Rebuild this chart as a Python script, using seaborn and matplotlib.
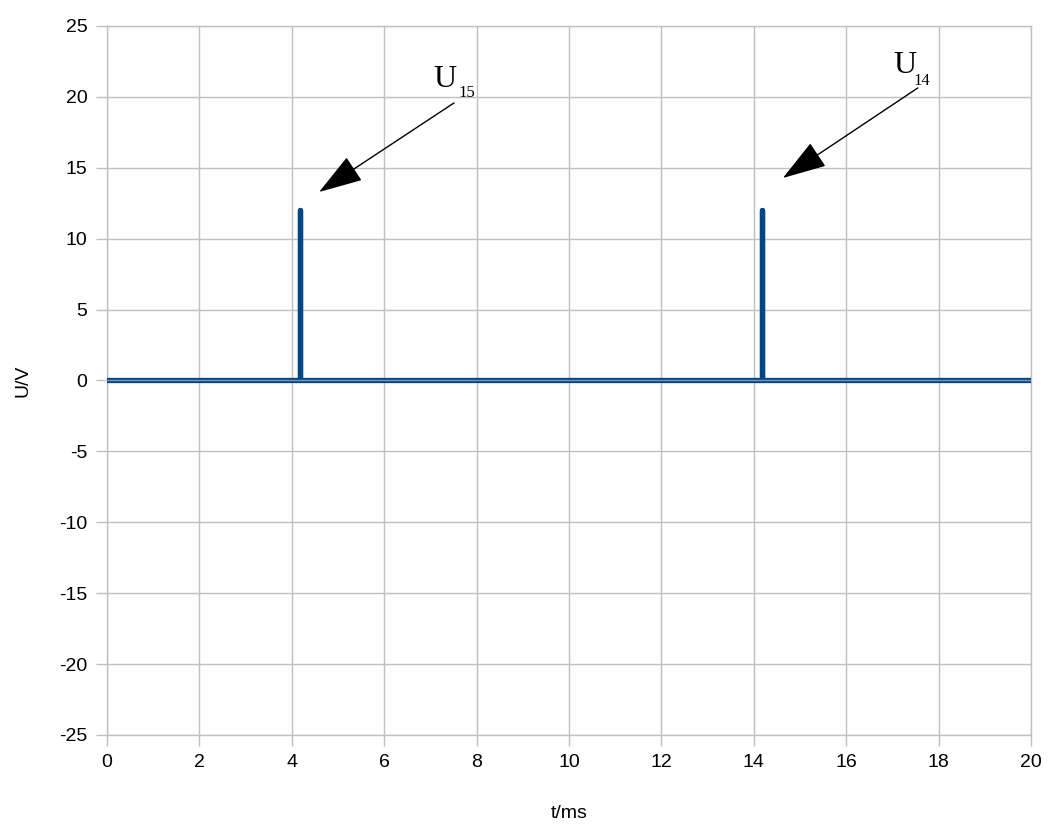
import matplotlib
matplotlib.use("Agg")
import matplotlib.pyplot as plt
import seaborn as sns
import pandas as pd

# Signal trace: two short 12 V pulses on a 0 V baseline
t_ms = [0.0, 4.18, 4.18, 4.18, 14.18, 14.18, 14.18, 20.0]
u_v = [0.0, 0.0, 12.0, 0.0, 0.0, 12.0, 0.0, 0.0]

x_ticks = [0, 2, 4, 6, 8, 10, 12, 14, 16, 18, 20]
y_ticks = [-25, -20, -15, -10, -5, 0, 5, 10, 15, 20, 25]

sns.set_theme(style="white")
plt.rcParams["font.family"] = ["Liberation Sans", "DejaVu Sans"]
plt.rcParams["axes.unicode_minus"] = False
plt.rcParams["text.color"] = "black"
plt.rcParams["axes.labelcolor"] = "black"
plt.rcParams["xtick.color"] = "black"
plt.rcParams["ytick.color"] = "black"

fig = plt.figure(figsize=(10.48, 8.32), dpi=100)
ax = fig.add_axes([0.1021, 0.1166, 0.8817, 0.8522])

df = pd.DataFrame({"t": t_ms, "u": u_v})
sns.lineplot(data=df, x="t", y="u", sort=False, estimator=None, ax=ax,
             color="#004586", linewidth=3.8, solid_capstyle="round",
             solid_joinstyle="round", zorder=3)
ax.axhline(0, color="#8296ad", linewidth=1.0, zorder=4)

ax.set_xlim(0, 20)
ax.set_ylim(-25, 25)
ax.set_xticks(x_ticks)
ax.set_yticks(y_ticks)
ax.grid(True, color="#c0c0c0", linewidth=1.0)
ax.set_axisbelow(True)
for side in ["left", "bottom", "top", "right"]:
    ax.spines[side].set_color("#c0c0c0")
    ax.spines[side].set_linewidth(1.0)
ax.tick_params(axis="both", which="major", length=8, width=1.0,
               color="#c0c0c0", labelcolor="black", labelsize=14, pad=6,
               direction="out", bottom=True, left=True)

ax.set_xlabel("t/ms", fontsize=14, labelpad=24, color="black")
ax.set_ylabel("U/V", fontsize=14, labelpad=20, color="black")

# Pulse labels with arrows
serif = ["Liberation Serif", "DejaVu Serif"]
arrow = dict(arrowstyle="-|>,head_length=1.4,head_width=0.45",
             color="black", lw=1.0, shrinkA=0, shrinkB=0, mutation_scale=20)

ax.text(7.06, 20.7, "U", fontsize=23, family=serif, color="black",
        ha="left", va="baseline")
ax.text(7.6, 20.0, "15", fontsize=12, family=serif, color="black",
        ha="left", va="baseline")
ax.annotate("", xy=(4.59, 13.29), xytext=(7.51, 19.57), arrowprops=arrow)

ax.text(17.01, 21.69, "U", fontsize=23, family=serif, color="black",
        ha="left", va="baseline")
ax.text(17.45, 20.85, "14", fontsize=12, family=serif, color="black",
        ha="left", va="baseline")
ax.annotate("", xy=(14.63, 14.28), xytext=(17.55, 20.63), arrowprops=arrow)

fig.savefig("out.png", dpi=100)
